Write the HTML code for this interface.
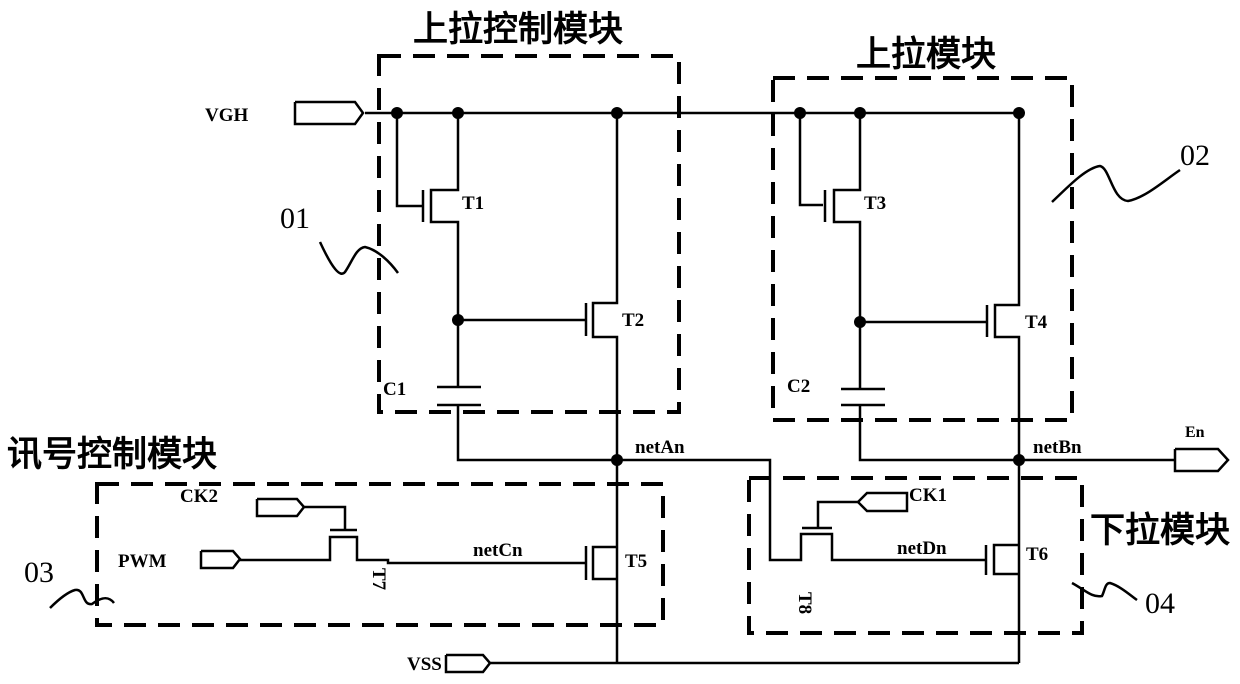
<!DOCTYPE html>
<html><head><meta charset="utf-8"><style>
html,body{margin:0;padding:0;background:#fff;}
svg{display:block;}
text{font-family:"Liberation Serif",serif;fill:#000;}
.cn{font-family:"Liberation Sans","Noto Sans CJK SC",sans-serif;}
</style></head><body>
<svg width="1240" height="684" viewBox="0 0 1240 684" xmlns="http://www.w3.org/2000/svg">
<g fill="none" stroke="#000" stroke-width="4" stroke-dasharray="22,12">
<rect x="379" y="56" width="300" height="356"/>
<rect x="773" y="78" width="299" height="342"/>
<rect x="97" y="484" width="566" height="141"/>
<rect x="749" y="478" width="333" height="155"/>
</g>
<g fill="none" stroke="#000" stroke-width="2.5">
<polyline points="295,102 355,102 363,113 355,124 295,124 295,102"/>
<line x1="365" y1="113" x2="1020" y2="113"/>
<polyline points="397,113 397,206 422,206"/>
<line x1="423" y1="190" x2="423" y2="222"/>
<polyline points="458,113 458,190 431,190 431,222 458,222 458,320"/>
<line x1="458" y1="320" x2="585" y2="320"/>
<line x1="586" y1="303" x2="586" y2="336"/>
<polyline points="617,113 617,303 593,303 593,337 617,337 617,663"/>
<line x1="458" y1="320" x2="458" y2="386"/>
<line x1="437" y1="387" x2="481" y2="387"/>
<line x1="437" y1="405" x2="481" y2="405"/>
<polyline points="458,405 458,460 617,460"/>
<polyline points="800,113 800,205 823,205"/>
<line x1="825" y1="190" x2="825" y2="222"/>
<polyline points="860,113 860,190 834,190 834,222 860,222 860,322"/>
<line x1="860" y1="322" x2="986" y2="322"/>
<line x1="987" y1="305" x2="987" y2="337"/>
<polyline points="1019,113 1019,305 995,305 995,337 1019,337 1019,663"/>
<line x1="860" y1="322" x2="860" y2="389"/>
<line x1="841" y1="389" x2="885" y2="389"/>
<line x1="841" y1="405" x2="885" y2="405"/>
<polyline points="860,405 860,460 1019,460"/>
<line x1="1019" y1="460" x2="1175" y2="460"/>
<polyline points="1175,449 1218,449 1228,460 1218,471 1175,471 1175,449"/>
<polyline points="617,460 770,460 770,560 801,560 801,534 832,534 832,560 986,560"/>
<line x1="802" y1="528" x2="832" y2="528"/>
<polyline points="818,528 818,502 858,502"/>
<polyline points="858,502 867,493 907,493 907,511 867,511 858,502"/>
<line x1="986" y1="545" x2="986" y2="575"/>
<polyline points="1019,545 994,545 994,574 1019,574"/>
<polyline points="257,499 297,499 304,507 297,516 257,516 257,499"/>
<polyline points="304,507 345,507 345,529"/>
<line x1="330" y1="530" x2="357" y2="530"/>
<polyline points="201,551 233,551 240,559 233,568 201,568 201,551"/>
<polyline points="240,560 330,560 330,537 357,537 357,560 388,560 388,563 585,563"/>
<line x1="586" y1="546" x2="586" y2="580"/>
<polyline points="617,547 593,547 593,579 617,579"/>
<polyline points="446,655 483,655 490,663 483,672 446,672 446,655"/>
<line x1="490" y1="663" x2="1019" y2="663"/>
<path d="M320,242 C332,268 340,278 345,272 C352,262 356,248 365,247 C378,250 390,262 398,273"/>
<path d="M1052,202 C1065,190 1085,168 1100,166 C1110,168 1112,200 1128,201 C1145,198 1165,180 1180,170"/>
<path d="M50,608 C58,600 68,592 75,590 C85,588 82,606 92,604 C100,598 108,595 114,603"/>
<path d="M1072,583 C1085,590 1092,598 1102,596 C1105,590 1105,583 1110,583 C1120,586 1130,595 1137,600"/>
</g>
<g fill="#000">
<circle cx="397" cy="113" r="6"/><circle cx="458" cy="113" r="6"/><circle cx="617" cy="113" r="6"/>
<circle cx="800" cy="113" r="6"/><circle cx="860" cy="113" r="6"/><circle cx="1019" cy="113" r="6"/>
<circle cx="458" cy="320" r="6"/><circle cx="860" cy="322" r="6"/>
<circle cx="617" cy="460" r="6"/><circle cx="1019" cy="460" r="6"/>
</g>
<g font-size="19" font-weight="bold">
<text x="205" y="121">VGH</text>
<text x="462" y="209">T1</text>
<text x="622" y="326">T2</text>
<text x="864" y="209">T3</text>
<text x="1025" y="328">T4</text>
<text x="383" y="395">C1</text>
<text x="787" y="392">C2</text>
<text x="635" y="453">netAn</text>
<text x="1033" y="453">netBn</text>
<text x="1185" y="437" font-size="16">En</text>
<text x="180" y="502">CK2</text>
<text x="118" y="567">PWM</text>
<text x="473" y="556">netCn</text>
<text x="625" y="567">T5</text>
<text x="909" y="501">CK1</text>
<text x="897" y="554">netDn</text>
<text x="1026" y="560">T6</text>
<text x="407" y="670">VSS</text>
<text transform="translate(373,568) rotate(90)">T7</text>
<text transform="translate(799,592) rotate(90)">T8</text>
</g>
<g font-size="30">
<text x="280" y="228">01</text>
<text x="1180" y="165">02</text>
<text x="24" y="582">03</text>
<text x="1145" y="613">04</text>
</g>
<g class="cn" font-size="35" font-weight="bold">
<text x="413" y="41">上拉控制模块</text>
<text x="856" y="66">上拉模块</text>
<text x="7" y="466">讯号控制模块</text>
<text x="1090" y="542">下拉模块</text>
</g>
</svg>
</body></html>
